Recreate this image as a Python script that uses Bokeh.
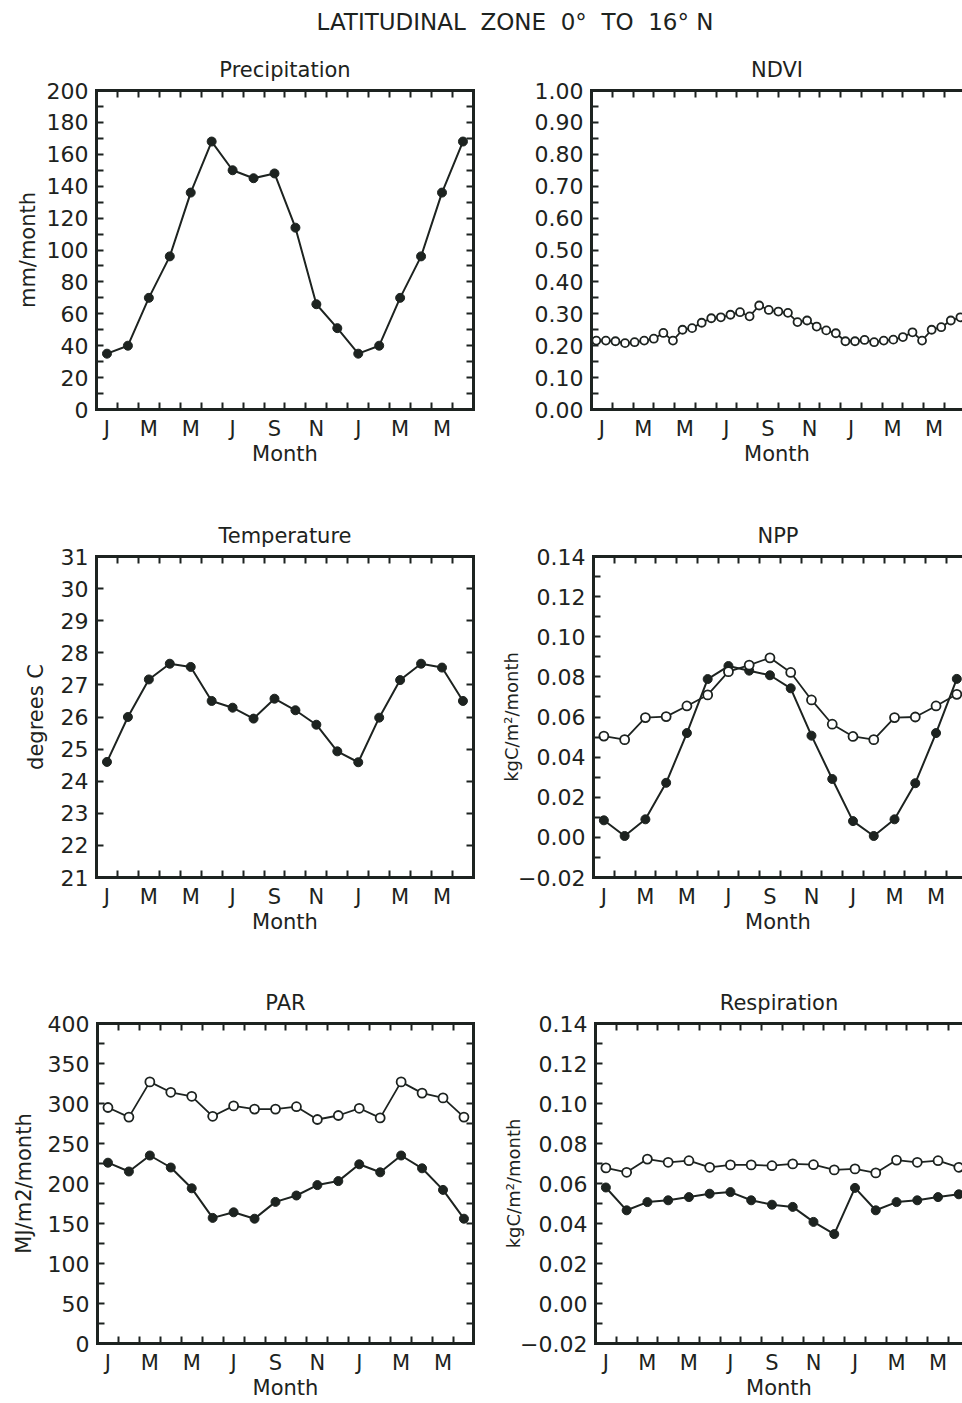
from bokeh.plotting import figure
from bokeh.layouts import column, row
from bokeh.models import LinearAxis, FixedTicker, Range1d
from bokeh.embed import file_html
from bokeh.resources import INLINE

INK = "#1d2320"
FONT = "DejaVu Sans"

# ---------------- data ----------------
month_index = list(range(18))          # Jan..Dec, then Jan..Jun of the next year
month_label_pos = [0, 2, 4, 6, 8, 10, 12, 14, 16]
month_labels = ["J", "M", "M", "J", "S", "N", "J", "M", "M"]

precipitation = [35, 40, 70, 96, 136, 168, 150, 145, 148, 114, 66, 51,
                 35, 40, 70, 96, 136, 168]

temperature = [24.60, 26.00, 27.17, 27.66, 27.56, 26.50, 26.29, 25.95, 26.57,
               26.21, 25.76, 24.93, 24.59, 25.98, 27.15, 27.66, 27.54, 26.50]

npp_filled = [0.0085, 0.0007, 0.0090, 0.0272, 0.0520, 0.0789, 0.0854, 0.0831,
              0.0808, 0.0743, 0.0507, 0.0291, 0.0081, 0.0007, 0.0090, 0.0270,
              0.0520, 0.0790]
npp_open = [0.0505, 0.0487, 0.0597, 0.0602, 0.0655, 0.0710, 0.0826, 0.0859,
            0.0895, 0.0822, 0.0685, 0.0564, 0.0503, 0.0487, 0.0597, 0.0600,
            0.0655, 0.0713]

par_open = [295, 283, 327, 314, 309, 284, 297, 293, 293, 296, 280, 285,
            294, 282, 327, 313, 307, 283]
par_filled = [226, 215, 235, 220, 194, 157, 164, 156, 177, 185, 198, 203,
              224, 214, 235, 219, 192, 156]

resp_open = [0.0678, 0.0656, 0.0722, 0.0706, 0.0714, 0.0681, 0.0693, 0.0693,
             0.0689, 0.0698, 0.0694, 0.0668, 0.0673, 0.0653, 0.0717, 0.0706,
             0.0714, 0.0681]
resp_filled = [0.0580, 0.0466, 0.0507, 0.0516, 0.0532, 0.0549, 0.0557, 0.0516,
               0.0494, 0.0483, 0.0408, 0.0347, 0.0578, 0.0466, 0.0507, 0.0516,
               0.0532, 0.0546]

# biweekly NDVI composites, 26 per year
ndvi_per_year = 26
ndvi = [0.216, 0.216, 0.214, 0.208, 0.211, 0.216, 0.222, 0.240, 0.216, 0.250,
        0.255, 0.272, 0.286, 0.289, 0.297, 0.305, 0.292, 0.326, 0.312, 0.307,
        0.303, 0.274, 0.279, 0.260, 0.248, 0.239, 0.214, 0.214, 0.218, 0.211,
        0.216, 0.219, 0.227, 0.242, 0.216, 0.250, 0.258, 0.279, 0.289]
ndvi_time = [(k + 0.5) * 12.0 / ndvi_per_year - 0.5 for k in range(len(ndvi))]

# labelled y ticks
precip_ticks = [0, 20, 40, 60, 80, 100, 120, 140, 160, 180, 200]
ndvi_ticks = [round(0.1 * i, 2) for i in range(11)]
temp_ticks = list(range(21, 32))
carbon_ticks = [round(-0.02 + 0.02 * i, 2) for i in range(9)]
par_ticks = [0, 50, 100, 150, 200, 250, 300, 350, 400]

main_title = "LATITUDINAL\u00a0 ZONE\u00a0 0°\u00a0 TO\u00a0 16° N"


# ---------------- helpers ----------------
def style_axis(ax, label_size="21px"):
    ax.axis_line_color = INK
    ax.axis_line_width = 3
    ax.axis_line_cap = "square"
    ax.major_tick_line_color = INK
    ax.major_tick_line_width = 2
    ax.major_tick_in = 7
    ax.major_tick_out = 0
    ax.minor_tick_line_color = INK
    ax.minor_tick_line_width = 2
    ax.minor_tick_in = 7
    ax.minor_tick_out = 0
    ax.major_label_text_font = FONT
    ax.major_label_text_font_size = "22px"
    ax.major_label_text_color = INK
    ax.axis_label_text_font = FONT
    ax.axis_label_text_font_size = label_size
    ax.axis_label_text_font_style = "normal"
    ax.axis_label_text_color = INK


def hide_labels(ax):
    ax.major_label_text_font_size = "0px"
    ax.major_label_standoff = 0


def fmt(v, decimals):
    s = f"{v:.{decimals}f}"
    return s.replace("-", "\u2212")


def make_panel(title, ylabel, y0, y1, major, minor, decimals, lay,
               ylabel_size="21px", ylabel_standoff=5, month_standoff=-2):
    fig_w, fig_h, bl, br, bt, bb, px_per_month = lay
    frame_w = fig_w - bl - br
    x_end = -0.5 + frame_w / px_per_month
    p = figure(width=fig_w, height=fig_h, x_range=Range1d(-0.5, x_end),
               y_range=Range1d(y0, y1), toolbar_location=None,
               output_backend="svg", x_axis_location=None, y_axis_location=None,
               min_border_left=bl, min_border_right=br, min_border_top=bt,
               min_border_bottom=bb, outline_line_color=None,
               background_fill_color="white", border_fill_color="white",
               title=title)
    p.grid.visible = False
    p.title.align = "center"
    p.title.text_font = FONT
    p.title.text_font_size = "21px"
    p.title.text_font_style = "normal"
    p.title.text_color = INK
    p.title.standoff = 17

    month_bounds = [k + 0.5 for k in range(17)]
    bottom = LinearAxis(ticker=FixedTicker(ticks=month_label_pos, minor_ticks=month_bounds),
                        major_label_overrides=dict(zip(month_label_pos, month_labels)),
                        axis_label="Month")
    style_axis(bottom)
    bottom.major_label_text_font_size = "21px"
    bottom.major_tick_in = 0
    bottom.major_label_standoff = 7
    bottom.axis_label_standoff = month_standoff
    p.add_layout(bottom, "below")

    top = LinearAxis(ticker=FixedTicker(ticks=[], minor_ticks=month_bounds))
    style_axis(top)
    hide_labels(top)
    p.add_layout(top, "above")

    left = LinearAxis(ticker=FixedTicker(ticks=major, minor_ticks=minor),
                      major_label_overrides={v: fmt(v, decimals) for v in major},
                      axis_label=ylabel)
    style_axis(left, ylabel_size)
    left.major_label_standoff = 8
    left.axis_label_standoff = ylabel_standoff
    p.add_layout(left, "left")

    if br > 0:
        right = LinearAxis(ticker=FixedTicker(ticks=[], minor_ticks=major + minor))
        style_axis(right)
        hide_labels(right)
        p.add_layout(right, "right")
    return p


def filled_series(p, x, y):
    p.line(x, y, line_color=INK, line_width=2)
    p.scatter(x, y, marker="circle", size=9, fill_color=INK, line_color=INK)


def open_series(p, x, y, size=9):
    p.line(x, y, line_color=INK, line_width=1.8)
    p.scatter(x, y, marker="circle", size=size, fill_color="white",
              line_color=INK, line_width=1.8)


# layout: (fig width, fig height, border left, right, top, bottom, px per month)
L1 = (480, 462, 96, 7, 45, 97, 20.94)
R1 = (482, 462, 111, 0, 46, 97, 20.76)
L2 = (480, 466, 96, 7, 49, 95, 20.94)
R2 = (482, 466, 113, 0, 50, 94, 20.76)
L3 = (480, 431, 97, 7, 50, 60, 20.94)
R3 = (482, 431, 115, 0, 51, 57, 20.76)

p_prec = make_panel("Precipitation", "mm/month", 0, 200, precip_ticks,
                    [v + 10 for v in precip_ticks[:-1]], 0, L1, ylabel_standoff=4)
filled_series(p_prec, month_index, precipitation)

p_ndvi = make_panel("NDVI", "", 0, 1.0, ndvi_ticks,
                    [round(v + 0.05, 2) for v in ndvi_ticks[:-1]], 2, R1)
open_series(p_ndvi, ndvi_time, ndvi, size=8)

p_temp = make_panel("Temperature", "degrees C", 21, 31, temp_ticks, [], 0, L2,
                    ylabel_standoff=10)
filled_series(p_temp, month_index, temperature)

p_npp = make_panel("NPP", "kgC/m²/month", -0.02, 0.14, carbon_ticks,
                   [round(v + 0.01, 3) for v in carbon_ticks[:-1]], 2, R2,
                   ylabel_size="18px", ylabel_standoff=-7)
filled_series(p_npp, month_index, npp_filled)
open_series(p_npp, month_index, npp_open)

p_par = make_panel("PAR", "MJ/m2/month", 0, 400, par_ticks,
                   [v + 25 for v in par_ticks[:-1]], 0, L3, ylabel_standoff=9)
filled_series(p_par, month_index, par_filled)
open_series(p_par, month_index, par_open)

p_resp = make_panel("Respiration", "kgC/m²/month", -0.02, 0.14, carbon_ticks,
                    [round(v + 0.01, 3) for v in carbon_ticks[:-1]], 2, R3,
                    ylabel_size="18px", ylabel_standoff=-7)
filled_series(p_resp, month_index, resp_filled)
open_series(p_resp, month_index, resp_open)

# main title strip
tp = figure(width=962, height=44, toolbar_location=None, output_backend="svg",
            x_axis_location=None, y_axis_location=None, min_border_left=67,
            min_border_right=0, min_border_top=39, min_border_bottom=0,
            outline_line_color=None, title=main_title)
tp.grid.visible = False
tp.title.align = "center"
tp.title.text_font = FONT
tp.title.text_font_size = "23px"
tp.title.text_font_style = "normal"
tp.title.text_color = INK

layout = column(tp, row(p_prec, p_ndvi), row(p_temp, p_npp), row(p_par, p_resp))

open("out.html", "w").write(file_html(layout, INLINE))
